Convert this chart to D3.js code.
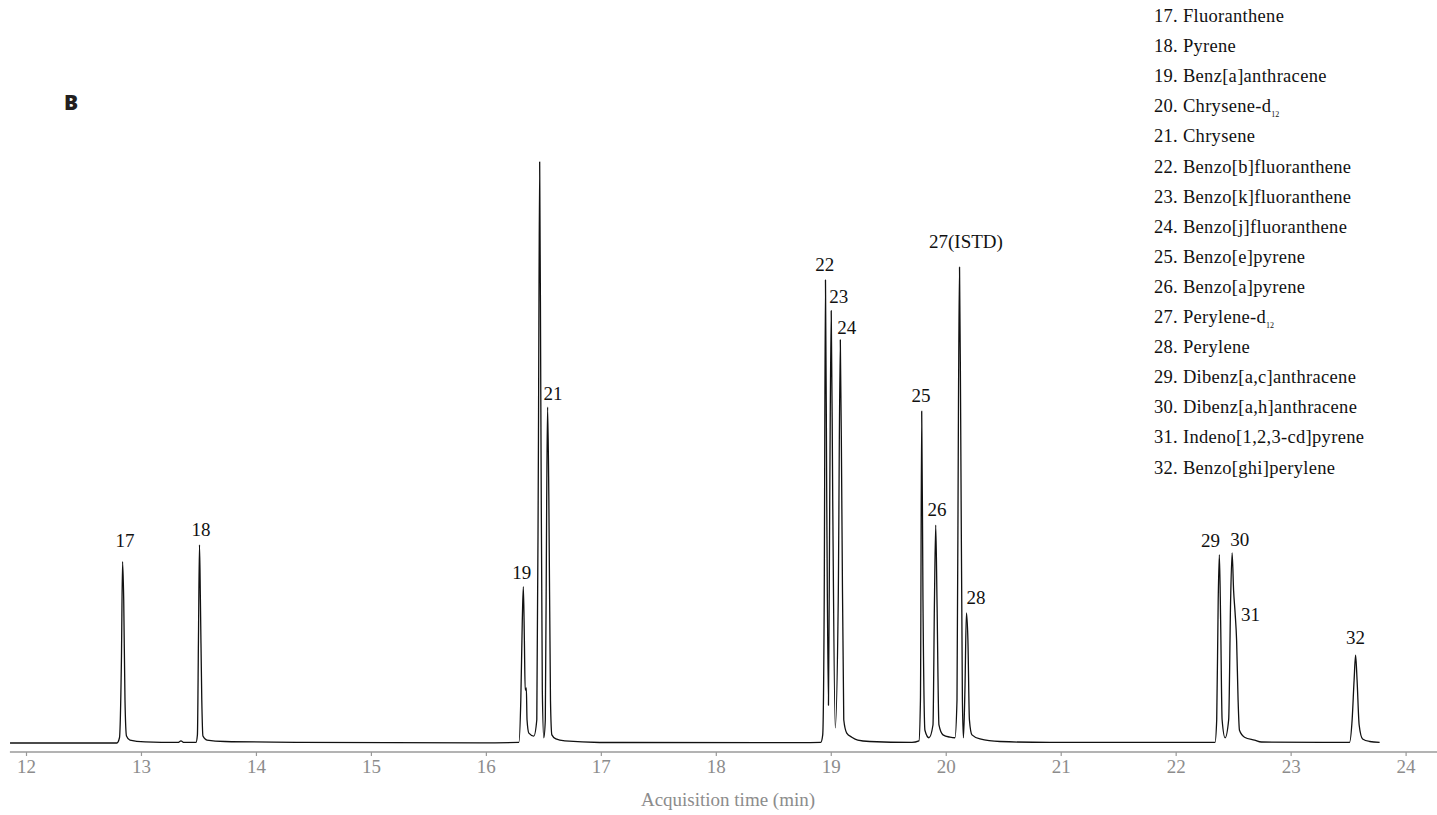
<!DOCTYPE html>
<html>
<head>
<meta charset="utf-8">
<script src="https://cdn.jsdelivr.net/npm/d3@7"></script>
<style>
  body { margin: 0; background: #fff; }
  svg { display: block; }
</style>
</head>
<body>
<div id="chart"></div>
<script>
// chromatogram trace: time (min) and relative abundance (% of tallest peak)
const traceTime = [
  11.861, 12.791, 12.813, 12.830, 12.840, 12.850, 12.861, 12.874, 12.904, 13.035,
  13.322, 13.348, 13.374, 13.478, 13.491, 13.500, 13.509, 13.517, 13.529, 13.539,
  13.574, 13.730, 14.383, 15.948, 16.287, 16.304, 16.317, 16.326, 16.335, 16.342,
  16.352, 16.358, 16.374, 16.417, 16.443, 16.457, 16.468, 16.478, 16.491, 16.504,
  16.517, 16.529, 16.537, 16.548, 16.562, 16.574, 16.609, 16.687, 16.991, 18.730,
  18.913, 18.930, 18.943, 18.954, 18.965, 18.980, 18.991, 19.004, 19.017, 19.039,
  19.065, 19.083, 19.096, 19.113, 19.139, 19.183, 19.235, 19.339, 19.706, 19.767,
  19.780, 19.791, 19.802, 19.819, 19.854, 19.889, 19.902, 19.913, 19.924, 19.941,
  19.976, 20.037, 20.080, 20.098, 20.111, 20.120, 20.130, 20.145, 20.154, 20.167,
  20.180, 20.193, 20.206, 20.228, 20.298, 20.472, 20.907, 22.342, 22.357, 22.370,
  22.380, 22.391, 22.404, 22.430, 22.461, 22.478, 22.491, 22.504, 22.517, 22.530,
  22.543, 22.555, 22.599, 22.686, 22.746, 23.512, 23.535, 23.552, 23.565, 23.578,
  23.596, 23.626, 23.687, 23.774
];
const traceAbund = [
  0, 0, 0.9, 14.3, 31.2, 24.6, 7.4, 1.2, 0.5, 0.2,
  0.1, 0.35, 0.1, 0.1, 1.4, 17.7, 34.1, 24.6, 7.4, 1.2,
  0.5, 0.26, 0.12, 0.03, 0.1, 7.4, 21.2, 26.9, 17.7, 9.1,
  9.5, 4.0, 1.7, 1.2, 4.0, 50.4, 100, 59.0, 9.1, 0.9,
  4.0, 41.8, 57.8, 41.8, 7.4, 1.4, 0.7, 0.35, 0.09, 0.05,
  0.1, 1.4, 24.6, 79.7, 41.8, 6.5, 41.8, 74.4, 41.8, 2.6,
  24.6, 69.4, 41.8, 4.0, 1.7, 1.0, 0.5, 0.26, 0.1, 0.35,
  7.4, 57.1, 24.6, 2.2, 0.9, 3.1, 24.6, 37.5, 24.6, 3.1,
  1.4, 1.0, 0.9, 7.4, 59.0, 81.9, 55.6, 7.4, 0.9, 9.1,
  22.4, 17.7, 4.0, 1.4, 0.7, 0.26, 0.1, 0.1, 4.0, 24.6,
  32.4, 21.2, 4.0, 0.9, 4.0, 24.6, 32.7, 26.2, 22.4, 17.7,
  7.4, 2.2, 1.0, 0.5, 0.17, 0.1, 4.0, 10.8, 15.1, 10.8,
  3.1, 0.7, 0.26, 0.1
];

// peak annotations
const peakNames = ["17", "18", "19", "21", "22", "23", "24", "25", "26", "27(ISTD)", "28", "29", "30", "31", "32"];
const peakLabelTime = [12.861, 13.522, 16.313, 16.583, 18.948, 19.070, 19.139, 19.785, 19.924, 20.176, 20.263, 22.304, 22.557, 22.652, 23.565];
const peakLabelLevel = [34.8, 36.8, 29.3, 60.2, 82.4, 76.9, 71.6, 59.9, 40.3, 86.4, 25.1, 34.8, 35.1, 22.2, 18.2];

// compound list (name, optional subscript)
const compounds = [
  ["17. Fluoranthene", ""],
  ["18. Pyrene", ""],
  ["19. Benz[a]anthracene", ""],
  ["20. Chrysene-d", "12"],
  ["21. Chrysene", ""],
  ["22. Benzo[b]fluoranthene", ""],
  ["23. Benzo[k]fluoranthene", ""],
  ["24. Benzo[j]fluoranthene", ""],
  ["25. Benzo[e]pyrene", ""],
  ["26. Benzo[a]pyrene", ""],
  ["27. Perylene-d", "12"],
  ["28. Perylene", ""],
  ["29. Dibenz[a,c]anthracene", ""],
  ["30. Dibenz[a,h]anthracene", ""],
  ["31. Indeno[1,2,3-cd]pyrene", ""],
  ["32. Benzo[ghi]perylene", ""]
];

const xTicks = [12, 13, 14, 15, 16, 17, 18, 19, 20, 21, 22, 23, 24];
const axisExtent = [11.86, 24.28];

const width = 1437, height = 815;
const serif = "'Liberation Serif', 'Times New Roman', serif";

const svg = d3.select('#chart').append('svg')
    .attr('width', width)
    .attr('height', height);

const x = d3.scaleLinear().domain([12, 24]).range([26, 1405.6]);
const y = d3.scaleLinear().domain([0, 100]).range([743, 162]);

// axis
const axisY = 752;
const axisG = svg.append('g').attr('transform', `translate(0,${axisY})`);
axisG.call(d3.axisBottom(x).tickValues(xTicks).tickSize(4).tickPadding(4).tickFormat(d3.format('d')));
axisG.select('.domain').remove();
axisG.selectAll('.tick line').attr('stroke', '#999').attr('stroke-width', 1.2);
axisG.selectAll('.tick text')
    .attr('fill', '#8c8c8c')
    .style('font-family', serif)
    .style('font-size', '19px');
axisG.append('line')
    .attr('x1', x(axisExtent[0]))
    .attr('x2', x(axisExtent[1]))
    .attr('stroke', '#9a9a9a')
    .attr('stroke-width', 1.5);

svg.append('text')
    .attr('x', 728)
    .attr('y', 806)
    .attr('text-anchor', 'middle')
    .attr('fill', '#8c8c8c')
    .style('font-family', serif)
    .style('font-size', '19px')
    .text('Acquisition time (min)');

// trace
const points = traceTime.map((t, i) => [t, traceAbund[i]]);
const line = d3.line()
    .x(d => x(d[0]))
    .y(d => y(d[1]))
    .curve(d3.curveMonotoneX);

svg.append('path')
    .datum(points)
    .attr('fill', 'none')
    .attr('stroke', '#111')
    .attr('stroke-width', 1.3)
    .attr('stroke-linejoin', 'round')
    .attr('d', line);

// peak labels
svg.append('g').selectAll('text')
    .data(peakNames)
    .join('text')
    .attr('x', (d, i) => x(peakLabelTime[i]))
    .attr('y', (d, i) => y(peakLabelLevel[i]))
    .attr('dy', '0.35em')
    .attr('text-anchor', 'middle')
    .attr('fill', '#111')
    .style('font-family', serif)
    .style('font-size', '19px')
    .text(d => d);

// panel letter
svg.append('text')
    .attr('x', 64)
    .attr('y', 110)
    .attr('fill', '#231f20')
    .style('font-family', "'Open Sans', 'Noto Sans', sans-serif")
    .style('font-weight', 800)
    .style('font-size', '21px')
    .text('B');

// compound list
const legend = svg.append('g').attr('transform', 'translate(1154,0)');
const rows = legend.selectAll('text')
    .data(compounds)
    .join('text')
    .attr('x', 0)
    .attr('y', (d, i) => 22 + i * 30.1)
    .attr('fill', '#111')
    .style('font-family', serif)
    .style('font-size', '18.5px')
    .style('letter-spacing', '0.3px');

rows.append('tspan').text(d => d[0]);
rows.filter(d => d[1] !== '')
    .append('tspan')
    .attr('dy', 5)
    .style('font-size', '8px')
    .style('letter-spacing', '0px')
    .text(d => d[1]);
</script>
</body>
</html>
